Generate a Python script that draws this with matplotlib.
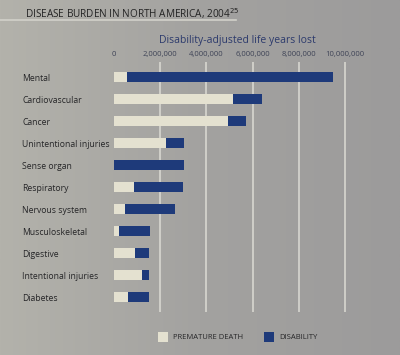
import numpy as np
import matplotlib
matplotlib.use('Agg')
import matplotlib.pyplot as plt
from matplotlib.patches import Patch
from matplotlib.colors import LinearSegmentedColormap

plt.rcParams['font.family'] = ['Open Sans', 'DejaVu Sans']

# data (DALYs lost)
categories = ['Mental', 'Cardiovascular', 'Cancer', 'Unintentional injuries',
              'Sense organ', 'Respiratory', 'Nervous system', 'Musculoskeletal',
              'Digestive', 'Intentional injuries', 'Diabetes']
premature = [560000, 5150000, 4950000, 2270000, 0, 860000, 460000,
             200000, 920000, 1210000, 600000]
disability = [8910000, 1250000, 750000, 760000, 3030000, 2140000, 2190000,
              1350000, 580000, 310000, 920000]
xticks = [0, 2000000, 4000000, 6000000, 8000000, 10000000]
xticklabels = ['0', '2,000,000', '4,000,000', '6,000,000', '8,000,000', '10,000,000']

c_prem = '#e4e1d0'
c_dis = '#1e3a7a'

fig = plt.figure(figsize=(4, 3.55), dpi=100)

# greyish photo-like background
bg = fig.add_axes([0, 0, 1, 1], zorder=-10)
cmap = LinearSegmentedColormap.from_list('bg', ['#b3b2ab', '#a3a2a0', '#9c9b9b'])
grad = np.linspace(0, 1, 256).reshape(1, -1)
bg.imshow(grad, aspect='auto', cmap=cmap, extent=[0, 1, 0, 1])
bg.axis('off')

ax = fig.add_axes([0.285, 0.121, 0.615, 0.704])
ax.set_facecolor('none')
y = np.arange(len(categories))
ax.barh(y, premature, height=0.45, color=c_prem, zorder=3)
ax.barh(y, disability, left=premature, height=0.45, color=c_dis, zorder=3)

ax.set_xlim(0, 10650000)
ax.set_ylim(len(categories) - 0.32, -0.68)
for s in ax.spines.values():
  s.set_visible(False)

ax.xaxis.grid(True, color='#dcdbd4', linewidth=1.1, zorder=0)
ax.xaxis.tick_top()
ax.set_xticks(xticks)
ax.set_xticklabels(xticklabels, fontsize=5.5, color='#3e4356')
ax.tick_params(axis='x', length=0, pad=3)
ax.xaxis.set_label_position('top')
ax.set_xlabel('Disability-adjusted life years lost', fontsize=7.5, color='#2c3a6c', labelpad=6)
# no gridline at zero
ax.get_xgridlines()[0].set_visible(False)

ax.set_yticks(y)
ax.set_yticklabels(categories, fontsize=6.2, color='#262628', ha='left')
ax.tick_params(axis='y', length=0, pad=66)

fig.text(0.062, 0.962, 'DISEASE BURDEN IN NORTH AMERICA, 2004$^{25}$',
         fontsize=7.2, color='#242424', va='center')
fig.add_artist(plt.Line2D([0, 0.59], [0.943, 0.943], color='#d2d1ca', linewidth=1.2))

handles = [Patch(facecolor=c_prem, label='PREMATURE DEATH'),
           Patch(facecolor=c_dis, label='DISABILITY')]
fig.legend(handles=handles, loc='center', bbox_to_anchor=(0.594, 0.051), ncol=2,
           frameon=False, fontsize=5.5, handlelength=1.3, handleheight=1.5,
           columnspacing=2.7, handletextpad=0.7, labelcolor='#262628')

fig.savefig('out.png', dpi=100)
